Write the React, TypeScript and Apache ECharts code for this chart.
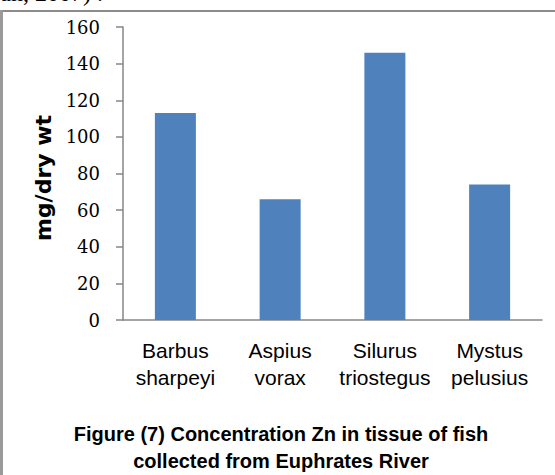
import React, { useEffect, useRef } from "react";
import * as echarts from "echarts";

const categories = ["Barbus\nsharpeyi", "Aspius\nvorax", "Silurus\ntriostegus", "Mystus\npelusius"];
const zincValues = [113, 66, 146, 74];
const yTicks = { min: 0, max: 160, interval: 20 };
const yAxisTitle = "mg/dry wt";
const captionLines = ["Figure (7) Concentration Zn in tissue of fish", "collected from Euphrates River"];
const topFragment = "Hassan, 2007) .";

export default function App() {
  const ref = useRef<HTMLDivElement>(null);
  useEffect(() => {
    document.body.style.margin = "0";
    const chart = echarts.init(ref.current!, null, { renderer: "svg" });
    chart.setOption({
      animation: false,
      backgroundColor: "#ffffff",
      grid: { left: 123, right: 13, top: 27, bottom: 155, containLabel: false },
      xAxis: {
        type: "category",
        data: categories,
        axisLine: { show: true, lineStyle: { color: "#868686", width: 1.5 } },
        axisTick: { show: false },
        axisLabel: {
          color: "#000",
          fontFamily: "Liberation Sans",
          fontSize: 21,
          lineHeight: 27,
          margin: 17,
          interval: 0,
        },
        splitLine: { show: false },
      },
      yAxis: {
        type: "value",
        min: yTicks.min,
        max: yTicks.max,
        interval: yTicks.interval,
        axisLine: { show: true, lineStyle: { color: "#868686", width: 1.5 } },
        axisTick: { show: true, length: 7, lineStyle: { color: "#868686", width: 1.5 } },
        axisLabel: { color: "#000", fontFamily: "DejaVu Serif", fontSize: 18, margin: 23 },
        splitLine: { show: false },
      },
      series: [
        {
          type: "bar",
          data: zincValues,
          barWidth: 41,
          itemStyle: { color: "#4F81BD" },
        },
      ],
      graphic: [
        { type: "rect", shape: { x: 0, y: 10, width: 555, height: 2 }, style: { fill: "#8c8c8c" } },
        { type: "rect", shape: { x: 0, y: 10, width: 3, height: 465 }, style: { fill: "#9a9a9a" } },
        {
          type: "text",
          x: 103,
          y: 5,
          style: {
            text: topFragment,
            fontFamily: "Liberation Serif",
            fontSize: 24,
            fill: "#000",
            align: "right",
            verticalAlign: "bottom",
          },
        },
        {
          type: "text",
          x: 43,
          y: 178,
          rotation: Math.PI / 2,
          style: {
            text: yAxisTitle,
            fontFamily: "DejaVu Sans",
            fontWeight: "bold",
            fontSize: 22,
            fill: "#000",
            align: "center",
            verticalAlign: "middle",
          },
        },
        {
          type: "text",
          x: 281,
          y: 420,
          style: {
            text: captionLines.join("\n"),
            fontFamily: "Liberation Sans",
            fontWeight: "bold",
            fontSize: 20,
            lineHeight: 27,
            fill: "#000",
            align: "center",
            verticalAlign: "top",
          },
        },
      ],
    });
    return () => chart.dispose();
  }, []);
  return <div ref={ref} style={{ width: 555, height: 475 }} />;
}
